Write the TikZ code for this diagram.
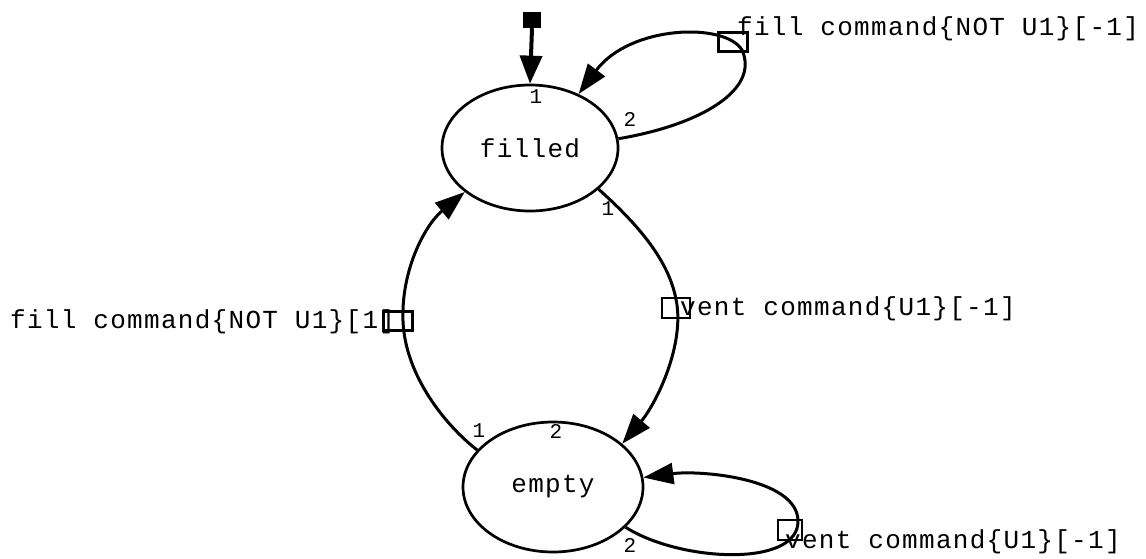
\documentclass[tikz,border=0pt]{standalone}
\usepackage{fontspec}
\usetikzlibrary{shapes.geometric,arrows.meta}
\newfontfamily\lblfont[LetterSpace=5]{Liberation Mono}
\newfontfamily\numfont{Liberation Mono}

\begin{document}
\begin{tikzpicture}[x=1pt,y=-1pt,
  state/.style={ellipse,draw,line width=2.7pt,inner sep=0pt,
    font={\lblfont\fontsize{26}{30}\selectfont}},
  lbl/.style={inner sep=0pt,anchor=base west,font={\lblfont\fontsize{26}{30}\selectfont}},
  num/.style={inner sep=0pt,font={\numfont\fontsize{21}{24}\selectfont}},
  gbox/.style={draw,line width=2.7pt,inner sep=0pt,minimum width=29pt,minimum height=19pt},
  edge/.style={line width=3pt,-{Triangle[length=30pt,width=21pt]}}]
\useasboundingbox (0,0) rectangle (1146,558);

% states
\node[state,minimum width=176pt,minimum height=126pt] (filled) at (530,148) {filled};
\node[state,minimum width=180pt,minimum height=130pt] (empty) at (553,487) {empty};

% initial marker
\node[fill,inner sep=0pt,minimum width=18pt,minimum height=16pt] (init) at (532,20) {};
\draw[line width=4pt,-{Triangle[length=28pt,width=22pt]}] (init.south) -- (filled.north);

% guard boxes
\node[gbox] (gtop) at (733,42) {};
\node[gbox] (gleft) at (398,321) {};
\node[gbox,minimum width=28pt,minimum height=20pt] (gvent) at (676,308) {};
\node[gbox,minimum width=24pt,minimum height=20pt] (gbot) at (790,530) {};

% transitions
\draw[edge] (filled.6.5) .. controls (700,125) and (760,90) .. (742,50)
  .. controls (725,22) and (630,25) .. (filled.48);
\draw[edge] (filled.-31) .. controls (650,235) and (672,270) .. (677,305)
  .. controls (683,350) and (655,405) .. (empty.32);
\draw[edge] (empty.154) .. controls (445,425) and (405,375) .. (403,321)
  .. controls (401,270) and (425,225) .. (filled.-146);
\draw[edge] (empty.-29) .. controls (680,562) and (800,568) .. (798,520)
  .. controls (796,478) and (700,470) .. (empty.6);

% transition labels
\node[lbl] (ltop) at (737,35) {fill command\{NOT U1\}[-1]};
\node[lbl] (lleft) at (10,328) {fill command\{NOT U1\}[1]};
\node[lbl] (lvent) at (680,315) {vent command\{U1\}[-1]};
\node[lbl] (lbot) at (785,548) {vent command\{U1\}[-1]};

% port numbers
\node[num] (p1) at (536,97) {1};
\node[num] (p2) at (630,119) {2};
\node[num] (p3) at (608,209) {1};
\node[num] (p4) at (479,431) {1};
\node[num] (p5) at (556,431) {2};
\node[num] (p6) at (630,545) {2};
\end{tikzpicture}
\end{document}
